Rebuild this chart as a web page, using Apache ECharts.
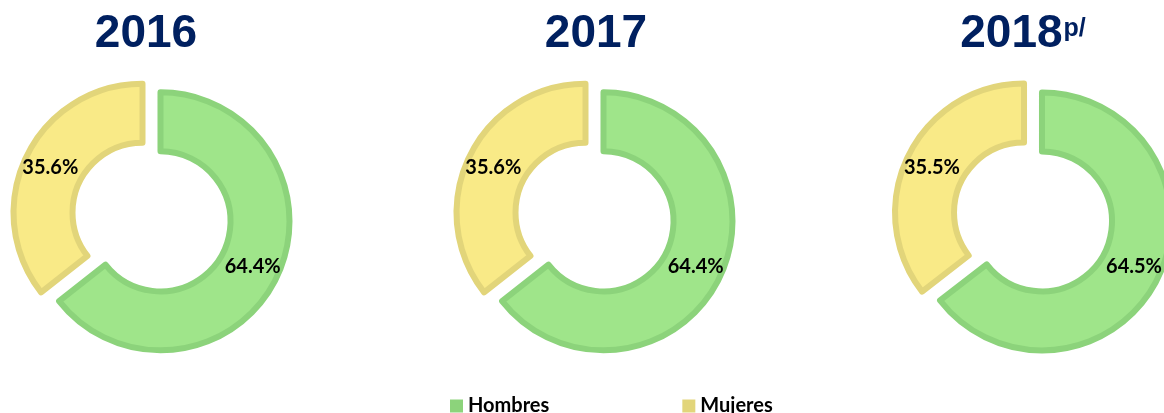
<!DOCTYPE html>
<html lang="es">
  <head>
    <meta charset="UTF-8" />
    <title>Hombres y Mujeres</title>
    <script src="https://cdn.jsdelivr.net/npm/echarts@6/dist/echarts.min.js"></script>
    <style>
      html, body { margin: 0; padding: 0; background: #fff; }
    </style>
  </head>
  <body>
    <div id="chart" style="width: 1164px; height: 413px"></div>
  </body>
  <script>
    // datos
    const years = ['2016', '2017', '2018']
    const yearNotes = ['', '', 'p/']
    const categories = ['Hombres', 'Mujeres']
    const hombres = [64.4, 64.4, 64.5]
    const mujeres = [35.6, 35.6, 35.5]

    const fillColors = ['#9fe58a', '#f9ea87']
    const lineColors = ['#8cd37b', '#e2d57a']

    const pieCenters = [151.5, 594.5, 1033]
    const titleCenters = [146, 596, 1023]

    const chart = echarts.init(document.getElementById('chart'))

    const titles = years.map((y, i) => ({
      text: yearNotes[i] ? y + '{sup|' + yearNotes[i] + '}' : y,
      left: titleCenters[i],
      top: 11,
      textAlign: 'center',
      padding: 0,
      textStyle: {
        fontFamily: 'Liberation Sans',
        fontWeight: 'bold',
        fontSize: 46,
        lineHeight: 46,
        color: '#002060',
        rich: {
          sup: {
            fontFamily: 'Liberation Sans',
            fontWeight: 'bold',
            fontSize: 25,
            lineHeight: 46,
            verticalAlign: 'top',
            color: '#002060',
            padding: [6, 0, 0, 1]
          }
        }
      }
    }))

    const series = years.map((y, i) => ({
      name: y,
      type: 'pie',
      center: [pieCenters[i], 217],
      radius: [70, 129],
      startAngle: 90,
      clockwise: true,
      selectedMode: 'multiple',
      selectedOffset: 10,
      emphasis: { disabled: true },
      label: {
        show: true,
        position: 'inside',
        formatter: p => p.value.toFixed(1) + '%',
        fontFamily: 'Lato',
        fontWeight: 'bold',
        fontSize: 20,
        color: '#000'
      },
      labelLine: { show: false },
      data: [
        {
          name: categories[0],
          value: hombres[i],
          selected: true,
          itemStyle: { color: fillColors[0], borderColor: lineColors[0], borderWidth: 6 }
        },
        {
          name: categories[1],
          value: mujeres[i],
          selected: true,
          itemStyle: { color: fillColors[1], borderColor: lineColors[1], borderWidth: 6 }
        }
      ]
    }))

    chart.setOption({
      animation: false,
      title: titles,
      legend: {
        left: 450,
        top: 396,
        padding: 0,
        itemGap: 133,
        itemWidth: 13,
        itemHeight: 13,
        icon: 'rect',
        selectedMode: false,
        textStyle: {
          fontFamily: 'Lato',
          fontWeight: 'bold',
          fontSize: 20,
          lineHeight: 20,
          color: '#000'
        },
        data: categories.map((c, i) => ({
          name: c,
          itemStyle: { color: lineColors[i], borderWidth: 0 }
        }))
      },
      series: series
    })
  </script>
</html>
